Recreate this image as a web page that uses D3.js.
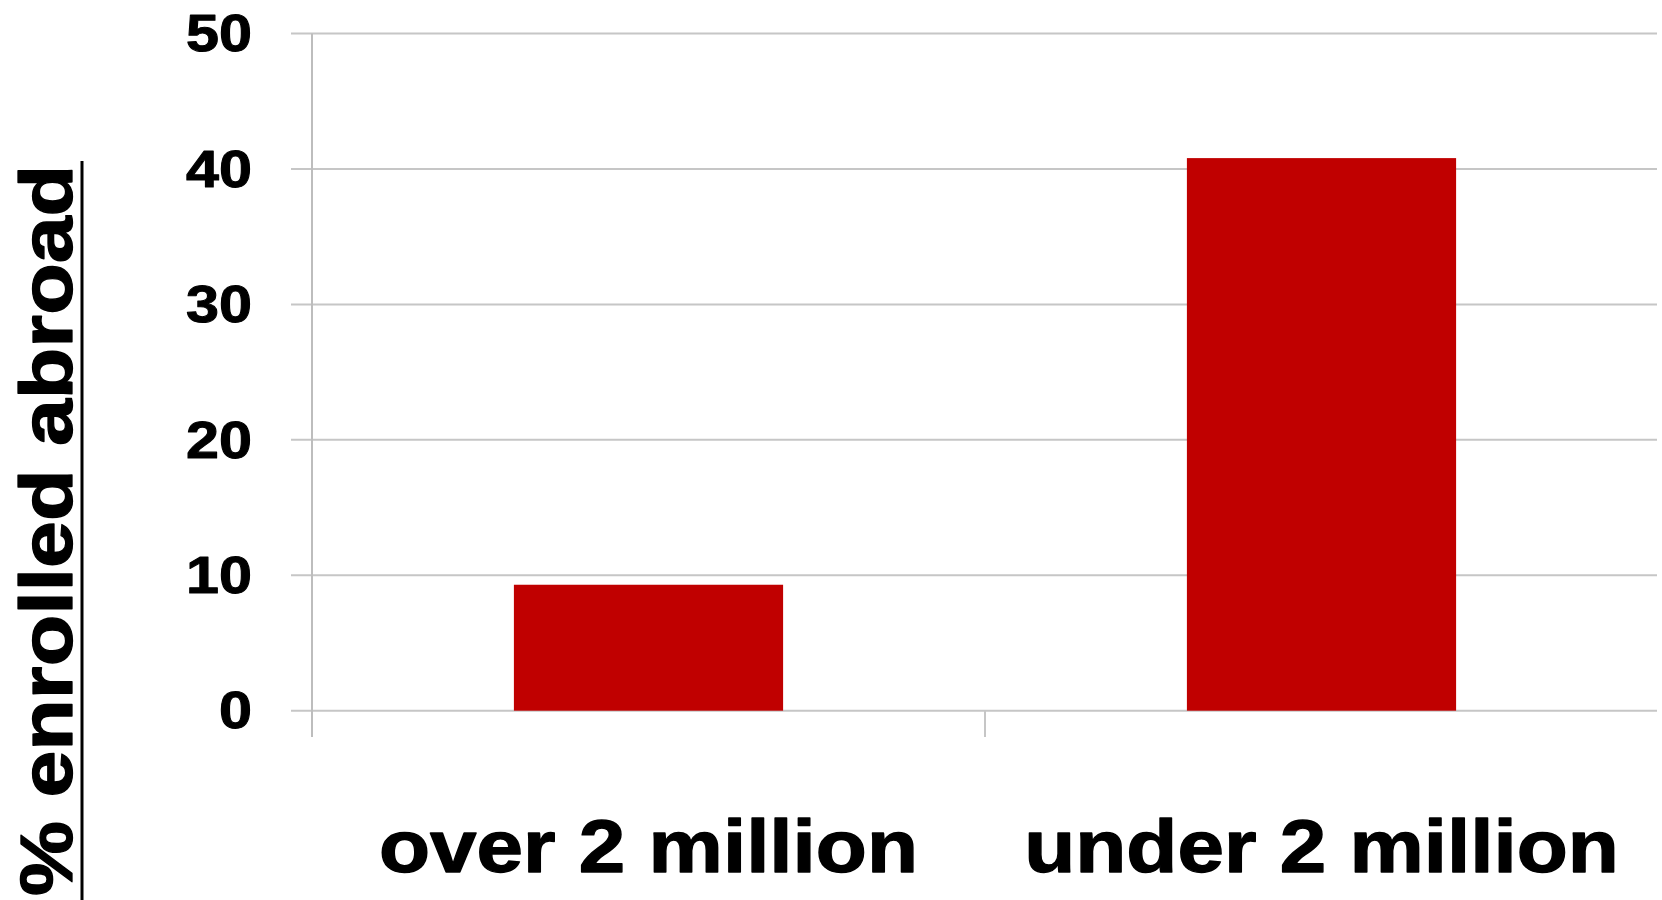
<!DOCTYPE html>
<html>
<head>
<meta charset="utf-8">
<script src="https://cdn.jsdelivr.net/npm/d3@7"></script>
<style>
  html, body { margin: 0; padding: 0; background: #fff; }
  svg { display: block; }
  text { font-family: "Liberation Sans", Arial, sans-serif; font-weight: bold; fill: #000; stroke: #000; stroke-linejoin: round; }
</style>
</head>
<body>
<div id="chart"></div>
<script>
// Data
const categories = ["over 2 million", "under 2 million"];
const values = [9.3, 40.8];
const yTicks = [0, 10, 20, 30, 40, 50];
const yLabel = "% enrolled abroad";

const W = 1662, H = 900;

const svg = d3.select("#chart")
    .append("svg")
    .attr("width", W)
    .attr("height", H);

// Scales
const x = d3.scaleBand()
    .domain(categories)
    .range([312, 1658])
    .paddingInner(0.6)
    .paddingOuter(0.3);

const y = d3.scaleLinear()
    .domain([0, 50])
    .range([710.7, 33.5]);

// Gridlines
svg.append("g")
    .selectAll("line")
    .data(yTicks)
    .enter()
    .append("line")
    .attr("x1", 291)
    .attr("x2", 1657)
    .attr("y1", d => y(d))
    .attr("y2", d => y(d))
    .attr("stroke", "#c6c6c6")
    .attr("stroke-width", 2);

// Left axis line
svg.append("line")
    .attr("x1", 312).attr("x2", 312)
    .attr("y1", y(50)).attr("y2", 737)
    .attr("stroke", "#bdbdbd")
    .attr("stroke-width", 2);

// Category separator ticks
const step = x.step();
svg.append("g")
    .selectAll("line")
    .data(categories.slice(1))
    .enter()
    .append("line")
    .attr("x1", d => x(d) - step * x.paddingInner() / 2)
    .attr("x2", d => x(d) - step * x.paddingInner() / 2)
    .attr("y1", y(0))
    .attr("y2", 737)
    .attr("stroke", "#c6c6c6")
    .attr("stroke-width", 2);

// Bars
svg.append("g")
    .selectAll("rect")
    .data(values)
    .enter()
    .append("rect")
    .attr("x", (d, i) => x(categories[i]))
    .attr("width", x.bandwidth())
    .attr("y", d => y(d))
    .attr("height", d => y(0) - y(d))
    .attr("fill", "#c00000");

// Y tick labels (text is a bit stretched sideways in the original)
svg.append("g")
    .selectAll("text")
    .data(yTicks)
    .enter()
    .append("text")
    .attr("transform", d => `translate(252,${y(d)}) scale(1.14,1)`)
    .attr("dy", "0.34em")
    .attr("text-anchor", "end")
    .style("font-size", "52px")
    .style("stroke-width", 1)
    .text(d => d);

// Category labels
svg.append("g")
    .selectAll("text")
    .data(categories)
    .enter()
    .append("text")
    .attr("transform", d => `translate(${x(d) + x.bandwidth() / 2},872) scale(1.13,1)`)
    .attr("text-anchor", "middle")
    .style("font-size", "74px")
    .style("stroke-width", 1.3)
    .text(d => d);

// Y axis label, rotated, with underline
svg.append("text")
    .attr("transform", "translate(72,896) rotate(-90) scale(1.14,1)")
    .attr("text-anchor", "start")
    .style("font-size", "74px")
    .style("stroke-width", 1.3)
    .text(yLabel);

svg.append("line")
    .attr("x1", 82).attr("x2", 82)
    .attr("y1", 161).attr("y2", 900)
    .attr("stroke", "#000")
    .attr("stroke-width", 3);
</script>
</body>
</html>
